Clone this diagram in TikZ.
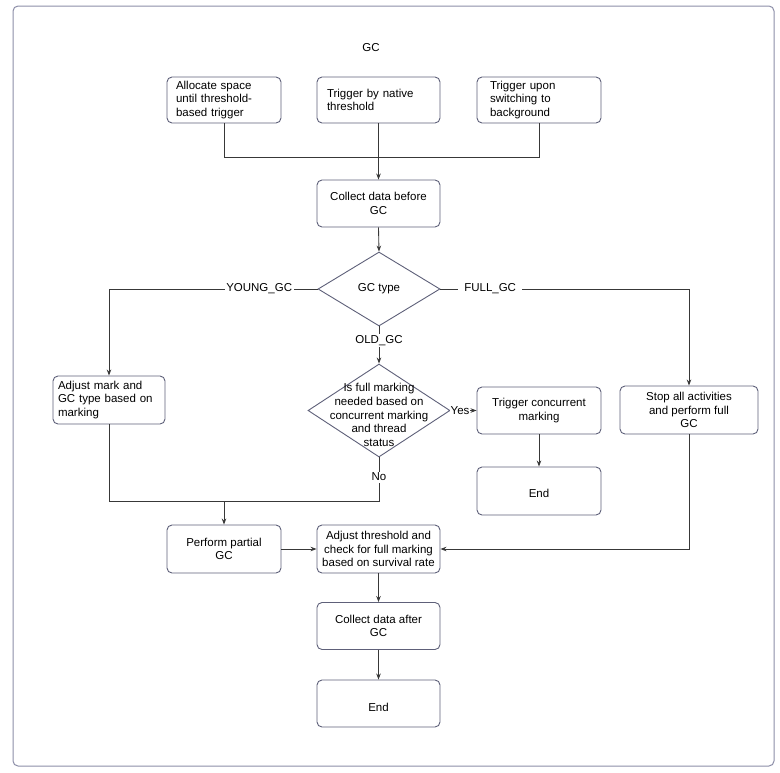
\documentclass[tikz,border=0pt]{standalone}
\usepackage{fontspec}
\setmainfont{Liberation Sans}
\usetikzlibrary{arrows.meta,shapes.geometric}
\definecolor{boxline}{HTML}{5E6079}
\definecolor{frameline}{HTML}{8C8EA8}
\definecolor{conn}{HTML}{383838}
\begin{document}
\begin{tikzpicture}[x=1pt,y=-1pt,
  every node/.style={font=\fontsize{11.5}{13.7}\selectfont},
  box/.style={draw=boxline,line width=0.9pt,rounded corners=5pt,fill=white,inner sep=0pt},
  dia/.style={draw=boxline,line width=0.9pt,shape=diamond,inner sep=0pt,fill=white},
  conline/.style={draw=conn,line width=0.85pt},
  arr/.style={conline,-{Stealth[length=6pt,width=4.5pt]}},
  lbl/.style={fill=white,inner sep=1.5pt}]
\useasboundingbox (0,0) rectangle (780,772);
\draw[frameline,line width=1pt,rounded corners=5pt] (13,6) rectangle (774,766);
\node (title) at (371,48) {GC};
\node[box,minimum width=114,minimum height=46,text width=96,align=left] (A) at (224,100) {Allocate space\\until threshold-\\based trigger};
\node[box,minimum width=123,minimum height=46,text width=103,align=left] (B) at (378.5,100) {Trigger by native\\threshold};
\node[box,minimum width=124,minimum height=46,text width=98,align=left] (C) at (539,100) {Trigger upon\\switching to\\background};
\node[box,minimum width=123,minimum height=47,align=center] (D) at (378.5,203.5) {Collect data before\\GC};
\node[dia,minimum width=122,minimum height=74] (d1) at (379,289) {GC type};
\node[box,minimum width=112,minimum height=48,text width=102,align=left] (E) at (109,400) {Adjust mark and\\GC type based on\\marking};
\node[dia,minimum width=142,minimum height=93] (d2) at (379,410.5) {};
\node[align=center] (d2t) at (379,415) {Is full marking\\needed based on\\concurrent marking\\and thread\\status};
\node[box,minimum width=124,minimum height=47,align=center] (G) at (539,410.5) {Trigger concurrent\\marking};
\node[box,minimum width=124,minimum height=48,align=center] (End1) at (539,491) {\raisebox{-6.1pt}[0pt][0pt]{End}};
\node[box,minimum width=138,minimum height=48,align=center] (F) at (689,410) {Stop all activities\\and perform full\\GC};
\node[box,minimum width=114,minimum height=48,align=center] (H) at (224,549) {Perform partial\\GC};
\node[box,minimum width=123,minimum height=48,align=center] (I) at (378.5,549) {Adjust threshold and\\check for full marking\\based on survival rate};
\node[box,minimum width=123,minimum height=47,align=center] (J) at (378.5,626) {Collect data after\\GC};
\node[box,minimum width=123,minimum height=47,align=center] (K) at (378.5,703.5) {\raisebox{-7.6pt}[0pt][0pt]{End}};
\coordinate (j1) at (379,157);
\coordinate (j2) at (379,501);
% top merge
\draw[conline] (A.south) -- (A.south |- j1) -- (C.south |- j1) -- (C.south);
\draw[arr] (B.south) -- (D.north);
\draw[arr] (D.south) -- (d1.north);
% GC type branches
\draw[arr] (d1.west) -- node[lbl,pos=0.28]{YOUNG\_GC} (E.north |- d1.west) -- (E.north);
\draw[arr] (d1.east) -- node[lbl,pos=0.2,inner sep=6pt]{FULL\_GC} (F.north |- d1.east) -- (F.north);
\draw[arr] (d1.south) -- node[lbl,pos=0.37]{OLD\_GC} (d2.north);
% decision 2
\draw[arr] (d2.east) -- node[lbl,pos=0.37,inner sep=0.5pt]{Yes} (G.west);
\draw[arr] (G.south) -- (End1.north);
\draw[conline] (d2.south) -- node[lbl,pos=0.45]{No} (j2) -- (E.south |- j2) -- (E.south);
\draw[arr] (H.north |- j2) -- (H.north);
% lower flow
\draw[arr] (H.east) -- (I.west);
\draw[arr] (F.south) -- (F.south |- I.east) -- (I.east);
\draw[arr] (I.south) -- (J.north);
\draw[arr] (J.south) -- (K.north);
\end{tikzpicture}
\end{document}
